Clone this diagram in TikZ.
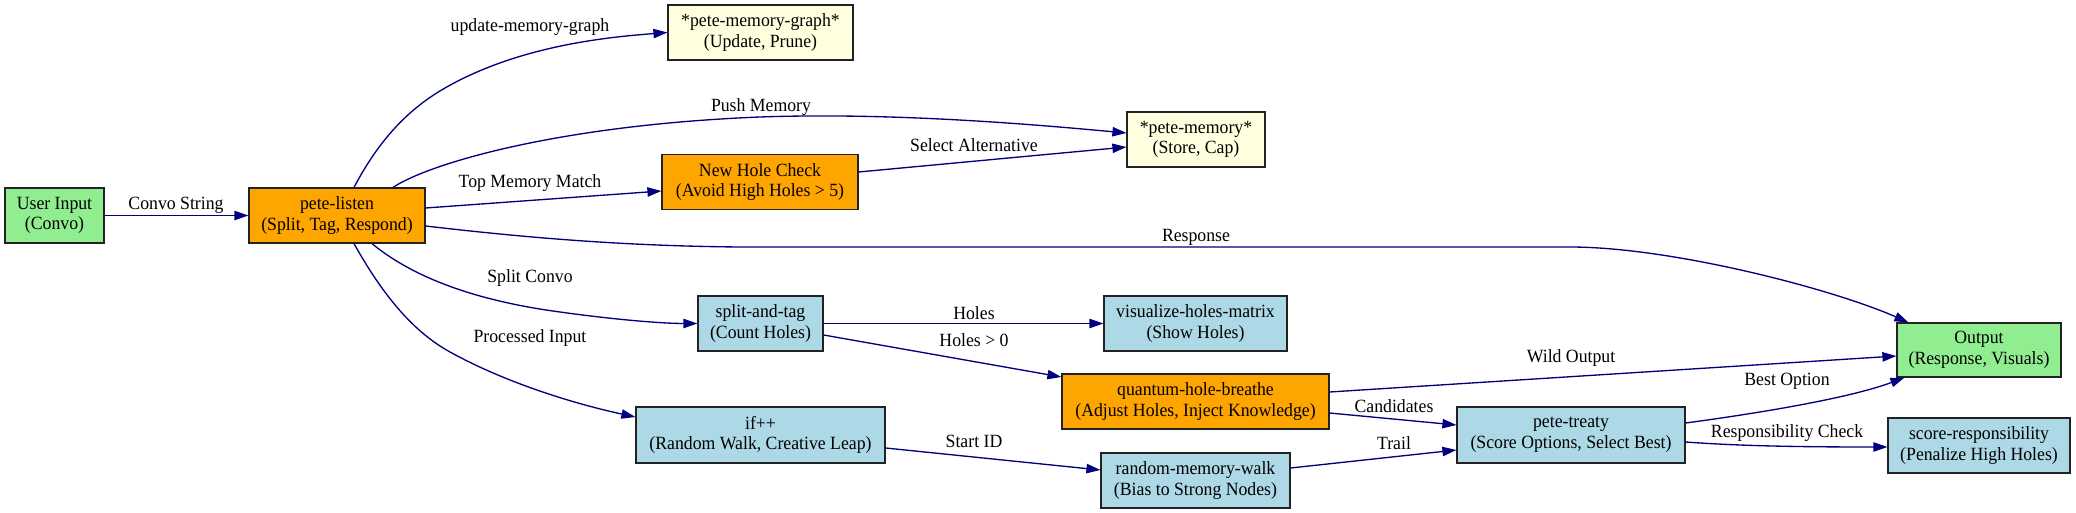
\documentclass[tikz,border=0pt]{standalone}
\usepackage{fontspec}
\setmainfont{Liberation Serif}[FakeStretch=0.95]
\usetikzlibrary{arrows.meta,calc}
\definecolor{navyc}{HTML}{000080}
\definecolor{lgreen}{HTML}{90EE90}
\definecolor{orangec}{HTML}{FFA500}
\definecolor{lblue}{HTML}{ADD8E6}
\definecolor{lyellow}{HTML}{FFFFE0}
\definecolor{bordc}{HTML}{222222}
\begin{document}
\begin{tikzpicture}[x=0.75pt,y=-0.75pt,
  box/.style={draw=bordc, line width=0.9pt, align=center, inner sep=0pt,
    minimum height=41.25pt, font=\fontsize{14}{15.5}\selectfont},
  edge/.style={draw=navyc, line width=1pt, -{Triangle[length=10.5pt,width=7pt]}},
  lbl/.style={font=\fontsize{14}{15.5}\selectfont, inner sep=0pt}]
\useasboundingbox (0,0) rectangle (2076,513);
\fill[white] (0,0) rectangle (2076,513);

% nodes
\node[box, fill=lgreen, minimum width=74.25pt] (ui) at (54.5,215.5) {User Input\\(Convo)};
\node[box, fill=orangec, minimum width=132pt] (listen) at (337,215.5) {pete-listen\\(Split, Tag, Respond)};
\node[box, fill=lyellow, minimum width=138.75pt] (mgraph) at (760.5,32.5) {*pete-memory-graph*\\(Update, Prune)};
\node[box, fill=orangec, minimum width=147pt] (nhc) at (760,182) {New Hole Check\\(Avoid High Holes > 5)};
\node[box, fill=lblue, minimum width=93.75pt] (split) at (760.5,323.5) {split-and-tag\\(Count Holes)};
\node[box, fill=lblue, minimum width=186.75pt, minimum height=42pt] (ifpp) at (760.5,435) {if++\\(Random Walk, Creative Leap)};
\node[box, fill=lyellow, minimum width=103.5pt] (mem) at (1196,139.5) {*pete-memory*\\(Store, Cap)};
\node[box, fill=lblue, minimum width=137.25pt] (vis) at (1195.5,323.5) {visualize-holes-matrix\\(Show Holes)};
\node[box, fill=orangec, minimum width=200.25pt] (qhb) at (1195.5,401.5) {quantum-hole-breathe\\(Adjust Holes, Inject Knowledge)};
\node[box, fill=lblue, minimum width=141.75pt] (rmw) at (1195.5,480.5) {random-memory-walk\\(Bias to Strong Nodes)};
\node[box, fill=lblue, minimum width=171pt, minimum height=42pt] (treaty) at (1571,435) {pete-treaty\\(Score Options, Select Best)};
\node[box, fill=lgreen, minimum width=123pt, minimum height=40.5pt] (out) at (1979,350) {Output\\(Response, Visuals)};
\node[box, fill=lblue, minimum width=136.5pt] (score) at (1979,445.5) {score-responsibility\\(Penalize High Holes)};

% edges
\draw[edge] (ui.east) -- (listen.west);
\draw[edge] ($(listen.north)+(17,0)$) .. controls (380,138) and (410,108) .. (445,88)
  .. controls (520,45) and (610,37) .. (mgraph.west);
\draw[edge] ($(listen.north)+(56,0)$) .. controls (430,163) and (560,125) .. (760,117)
  .. controls (900,112) and (1050,126) .. ($(mem.west)+(0,-6.5)$);
\draw[edge] ($(listen.east)+(0,-7.5)$) -- ($(nhc.west)+(0,9)$);
\draw[edge] ($(listen.east)+(0,10.5)$) .. controls (520,237) and (620,246) .. (740,247)
  -- (1570,247) .. controls (1670,247) and (1830,288) .. ($(out.north west)+(12,0)$);
\draw[edge] ($(nhc.east)+(0,-10)$) -- ($(mem.west)+(0,7.5)$);
\draw[edge] ($(listen.south)+(35,0)$) .. controls (410,275) and (470,300) .. (560,312)
  .. controls (610,319) and (660,323.5) .. (split.west);
\draw[edge] ($(listen.south)+(17,0)$) .. controls (380,290) and (410,330) .. (450,352)
  .. controls (510,385) and (580,405) .. ($(ifpp.west)+(0,-18)$);
\draw[edge] (split.east) -- (vis.west);
\draw[edge] ($(split.east)+(0,11.5)$) -- ($(qhb.west)+(0,-24.5)$);
\draw[edge] ($(qhb.east)+(0,-9.5)$) -- ($(out.west)+(0,6)$);
\draw[edge] ($(qhb.east)+(0,11.5)$) -- ($(treaty.west)+(0,-10)$);
\draw[edge] ($(ifpp.east)+(0,13)$) -- ($(rmw.west)+(0,-10.5)$);
\draw[edge] ($(rmw.east)+(0,-12.5)$) -- ($(treaty.west)+(0,15)$);
\draw[edge] ($(treaty.east)+(0,-12)$) .. controls (1760,413) and (1850,398) .. ($(out.south west)+(8,0)$);
\draw[edge] ($(treaty.east)+(0,7)$) .. controls (1740,446) and (1800,447) .. ($(score.west)+(0,1.5)$);

% labels
\node[lbl] (l1) at (176,205) {Convo String};
\node[lbl] (l2) at (530,27) {update-memory-graph};
\node[lbl] (l3) at (761,107) {Push Memory};
\node[lbl] (l4) at (530,183) {Top Memory Match};
\node[lbl] (l5) at (1196,237) {Response};
\node[lbl] (l6) at (974,145) {Select Alternative};
\node[lbl] (l7) at (530,278) {Split Convo};
\node[lbl] (l8) at (530,338) {Processed Input};
\node[lbl] (l9) at (974,313) {Holes};
\node[lbl] (l10) at (974,340) {Holes > 0};
\node[lbl] (l11) at (1571,358) {Wild Output};
\node[lbl] (l12) at (1394,406) {Candidates};
\node[lbl] (l13) at (974,441) {Start ID};
\node[lbl] (l14) at (1394,443) {Trail};
\node[lbl] (l15) at (1787,381) {Best Option};
\node[lbl] (l16) at (1787,433) {Responsibility Check};
\end{tikzpicture}
\end{document}
